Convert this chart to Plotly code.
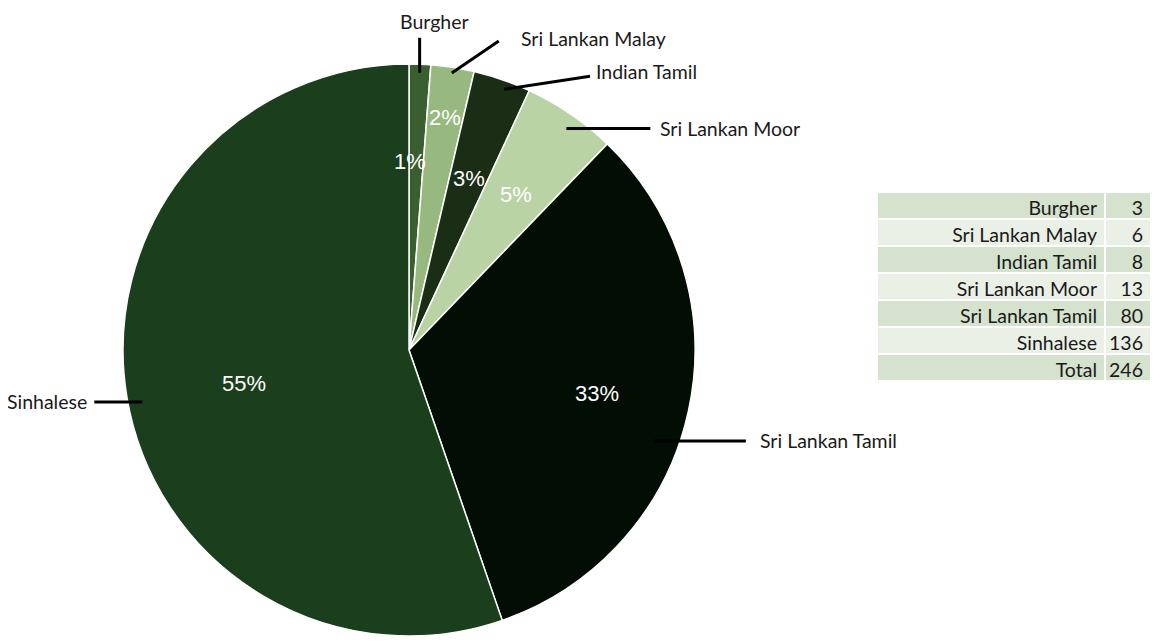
import math
import plotly.graph_objects as go

groups = ["Burgher", "Sri Lankan Malay", "Indian Tamil", "Sri Lankan Moor", "Sri Lankan Tamil", "Sinhalese"]
counts = [3, 6, 8, 13, 80, 136]
colors = ["#3b5e31", "#97b87e", "#1a2e15", "#b9d3a5", "#020d03", "#1b3f1c"]

# page is 1159x644, body margin of 8px around the figure
W, H = 1159, 644
OFF = 8
FW, FH = W - 2 * OFF, H - 2 * OFF
CX, CY, R = 409, 350, 286

total = sum(counts)
pcts = [f"{round(c / total * 100)}%" for c in counts]


def to_paper(px, py):
    return (px - OFF) / FW, 1 - (py - OFF) / FH


def polar(ang, frac):
    a = math.radians(ang)
    return CX + frac * R * math.sin(a), CY - frac * R * math.cos(a)


# mid angles of each slice, clockwise from 12 o'clock
mids = []
acc = 0
for c in counts:
    mids.append((acc + c / 2) / total * 360)
    acc += c

x0d, y1d = to_paper(CX - R, CY - R)
x1d, y0d = to_paper(CX + R, CY + R)

fig = go.Figure()
fig.add_trace(go.Pie(
    labels=groups, values=counts, sort=False, direction="clockwise", rotation=0,
    marker=dict(colors=colors, line=dict(color="white", width=1.5)),
    textinfo="none", hoverinfo="label+value+percent", showlegend=False,
    domain=dict(x=[x0d, x1d], y=[y0d, y1d]),
))

# percent labels inside the slices
pct_shift = [-1.9, 0, 0, 0, 0.5, -0.5]
pct_frac = [0.665, 0.83, 0.64, 0.665, 0.675, 0.67]
pct_dy = [-13, -12, -13, -13, 0, 0]
for i, p in enumerate(pcts):
    px, py = polar(mids[i] + pct_shift[i], pct_frac[i])
    x, y = to_paper(px, py + pct_dy[i])
    fig.add_annotation(x=x, y=y, xref="paper", yref="paper", text=p, showarrow=False,
                       font=dict(family="Liberation Sans", size=22, color="white"))

# leader lines and outside labels
tip_shift = [0, 0, 1, 1, 8, -1.5]
tip_frac = [0.97, 0.98, 0.97, 0.95, 0.91, 0.95]
lead = [(0, -35), (47, -32), (86, -13), (84, 0), (93, 0), (-48, 0)]
label_gap = [(15, -16), (20, -3), (4, -5), (8, 0), (12, 0), (-5, 0)]
label_font = dict(family="Lato", size=19.5, color="#1a1a1a")
for i, g in enumerate(groups):
    tx, ty = polar(mids[i] + tip_shift[i], tip_frac[i])
    ex, ey = tx + lead[i][0], ty + lead[i][1]
    x0, y0 = to_paper(tx, ty)
    x1, y1 = to_paper(ex, ey)
    fig.add_shape(type="line", xref="paper", yref="paper", x0=x0, y0=y0, x1=x1, y1=y1,
                  line=dict(color="black", width=3))
    lx, ly = to_paper(ex + label_gap[i][0], ey + label_gap[i][1])
    xa = "center" if i == 0 else ("left" if lead[i][0] > 0 else "right")
    fig.add_annotation(x=lx, y=ly, xref="paper", yref="paper", text=g, showarrow=False,
                       xanchor=xa, yanchor="middle", font=label_font)

# summary table
dark, light = "#d5e2cd", "#eaf0e6"
row_names = groups[1:] + ["Total"]
row_vals = [str(c) for c in counts[1:]] + [str(total)]
row_fill = [light if k % 2 == 0 else dark for k in range(len(row_names))]
tx0, ty1 = to_paper(877, 192)
fig.add_trace(go.Table(
    domain=dict(x=[tx0, 1], y=[0, ty1]),
    columnwidth=[228, 46],
    header=dict(values=[groups[0], str(counts[0])], fill_color=dark, align="right",
                line=dict(color="white", width=2), height=27, font=label_font),
    cells=dict(values=[row_names, row_vals], fill_color=[row_fill, row_fill], align="right",
               line=dict(color="white", width=2), height=27, font=label_font),
))

fig.update_layout(width=FW, height=FH, margin=dict(l=0, r=0, t=0, b=0),
                  paper_bgcolor="white", plot_bgcolor="white")
fig.write_html("out.html")
